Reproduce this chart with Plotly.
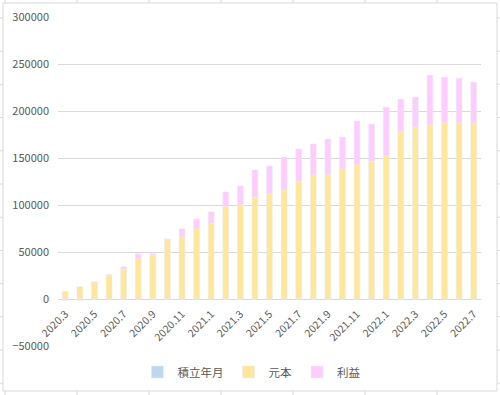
import plotly.graph_objects as go

months = ["2020.3", "2020.4", "2020.5", "2020.6", "2020.7", "2020.8", "2020.9", "2020.10",
          "2020.11", "2020.12", "2021.1", "2021.2", "2021.3", "2021.4", "2021.5", "2021.6",
          "2021.7", "2021.8", "2021.9", "2021.10", "2021.11", "2021.12", "2022.1", "2022.2",
          "2022.3", "2022.4", "2022.5", "2022.6", "2022.7"]
tsumitate = [0] * len(months)
gankin = [7800, 13000, 17300, 25000, 31800, 42800, 46300, 63300, 66100, 74600, 80300, 98000,
          100100, 108300, 111800, 116000, 124900, 132000, 132000, 138300, 142600, 146100,
          152400, 177900, 182200, 185000, 187200, 187200, 187200]
rieki = [-1500, -1500, 1100, 1100, 2500, 5300, 1800, 700, 8500, 10600, 12400, 15900,
         20200, 29000, 29700, 35100, 34700, 32900, 38200, 34000, 46700, 40000,
         51700, 34700, 32600, 53100, 48800, 47700, 43500]
y_ticks = list(range(-50000, 300001, 50000))

FONT = "Noto Sans CJK JP, Noto Sans, sans-serif"
GRID = "#d9d9d9"
TXT = "#595959"

W, H = 500, 395
L, R, T, B = 58, 19, 17, 49
pw, ph = W - L - R, H - T - B


def px(x):
    return (x - L) / pw


def py(y):
    return (H - B - y) / ph


fig = go.Figure()
fig.add_bar(x=months, y=tsumitate, name="積立年月", marker_color="#bdd7ee")
fig.add_bar(x=months, y=gankin, name="元本", marker_color="#ffe699")
fig.add_bar(x=months, y=rieki, name="利益", marker_color="#ffccff")

ymin, ymax = y_ticks[0], y_ticks[-1]
zero_pos = (0 - ymin) / (ymax - ymin)

shapes = [dict(type="rect", xref="paper", yref="paper", x0=px(3), x1=px(497), y0=py(3), y1=py(391),
               line=dict(color=GRID, width=1), layer="below")]
for k in range(7):
    xx = 5 + 72 * k
    shapes.append(dict(type="line", xref="paper", yref="paper", x0=px(xx), x1=px(xx), y0=py(0), y1=py(3),
                       line=dict(color=GRID, width=1)))
    shapes.append(dict(type="line", xref="paper", yref="paper", x0=px(xx), x1=px(xx), y0=py(391), y1=py(395),
                       line=dict(color=GRID, width=1)))
for k in range(12):
    yy = 18 + 33.2 * k
    shapes.append(dict(type="line", xref="paper", yref="paper", x0=px(0), x1=px(3), y0=py(yy), y1=py(yy),
                       line=dict(color=GRID, width=1)))
    shapes.append(dict(type="line", xref="paper", yref="paper", x0=px(497), x1=px(500), y0=py(yy), y1=py(yy),
                       line=dict(color=GRID, width=1)))

fig.update_layout(
    width=W, height=H,
    margin=dict(l=L, r=R, t=T, b=B, autoexpand=False),
    paper_bgcolor="white", plot_bgcolor="white",
    barmode="relative", bargap=0.6,
    font=dict(family=FONT, size=11, color=TXT),
    showlegend=True,
    legend=dict(orientation="h", xref="container", yref="container", x=0.503, xanchor="center",
                y=(H - 372) / H, yanchor="middle", itemwidth=30, font=dict(size=11.5, color=TXT),
                traceorder="normal", bgcolor="rgba(0,0,0,0)"),
    xaxis=dict(type="category", anchor="free", position=zero_pos, tickangle=-45,
               tickvals=months[::2], showgrid=False, showline=False, ticks="", automargin=False,
               ticklabelstandoff=6, tickfont=dict(size=10.5, color=TXT)),
    yaxis=dict(range=[ymin, ymax], tickvals=y_ticks, tickformat="d", showgrid=True, gridcolor=GRID,
               gridwidth=1, zeroline=True, zerolinecolor=GRID, zerolinewidth=1, showline=False,
               automargin=False, ticklabelstandoff=8, tickfont=dict(size=11, color=TXT)),
    shapes=shapes,
)

fig.write_html("out.html", config={"displayModeBar": False},
               post_script="document.body.style.margin='0';document.body.style.padding='0';")
